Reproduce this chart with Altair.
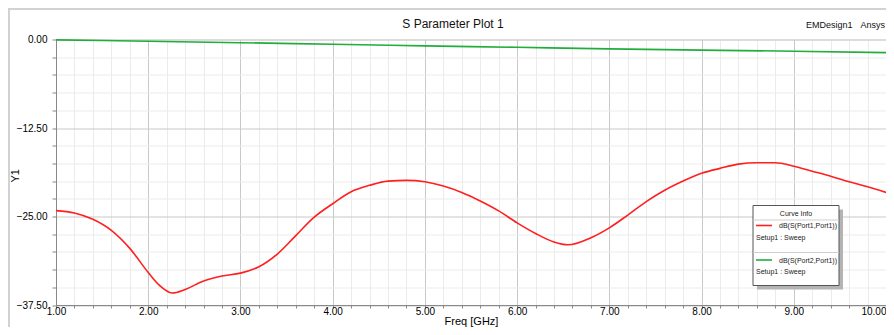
import altair as alt
import pandas as pd

TITLE = "S Parameter Plot 1"
DESIGN = "EMDesign1"
VENDOR = "Ansys"
X_TITLE = "Freq [GHz]"
Y_TITLE = "Y1"
LEGEND_TITLE = "Curve Info"
SWEEP = "Setup1 : Sweep"
SERIES = ["dB(S(Port1,Port1))", "dB(S(Port2,Port1))"]
COLORS = ["#ff1f1f", "#20ad3c"]

FREQ_S11 = [1.0, 1.2, 1.4, 1.6, 1.8, 2.0, 2.12, 2.26, 2.4, 2.6, 2.8, 3.0, 3.2, 3.4,
            3.6, 3.8, 4.0, 4.2, 4.4, 4.6, 4.8, 5.0, 5.2, 5.4, 5.6, 5.8, 6.0, 6.2,
            6.4, 6.55, 6.8, 7.0, 7.2, 7.4, 7.6, 7.8, 8.0, 8.2, 8.4, 8.6, 8.8, 9.0,
            9.2, 9.4, 9.6, 9.8, 10.0]
DB_S11 = [-24.17, -24.5, -25.4, -26.96, -29.5, -32.9, -34.7, -35.8, -35.3, -34.1,
          -33.4, -33.0, -32.1, -30.3, -27.7, -25.1, -23.2, -21.5, -20.6, -20.0,
          -19.9, -20.1, -20.7, -21.6, -22.8, -24.2, -25.9, -27.4, -28.6, -29.0,
          -28.0, -26.6, -24.8, -22.9, -21.3, -20.0, -18.9, -18.2, -17.6, -17.4,
          -17.4, -17.9, -18.6, -19.3, -20.1, -20.8, -21.6]

FREQ_S21 = [1.0, 2.0, 3.0, 4.0, 5.0, 6.0, 7.0, 8.0, 9.0, 10.0]
DB_S21 = [-0.05, -0.25, -0.45, -0.68, -0.9, -1.1, -1.32, -1.5, -1.65, -1.85]

X_TICKS = [round(1.0 + 0.2 * i, 1) for i in range(46)]
Y_TICKS = [round(-2.5 * i, 1) for i in range(16)]

W, H = 830, 265.5
FONT = "Liberation Sans"

df = pd.DataFrame({
    "freq": FREQ_S11 + FREQ_S21,
    "db": DB_S11 + DB_S21,
    "series": [SERIES[0]] * len(FREQ_S11) + [SERIES[1]] * len(FREQ_S21),
})

grid_x = {"condition": {"test": "abs(datum.value - round(datum.value)) < 0.001", "value": "#c9c9c9"}, "value": "#ebebeb"}
grid_y = {"condition": {"test": "abs(datum.value % 12.5) < 0.001", "value": "#c9c9c9"}, "value": "#ebebeb"}
x_label_align = {"condition": {"test": "datum.value > 9.9", "value": "right"}, "value": "center"}

lines = alt.Chart(df).mark_line(strokeWidth=1.6, interpolate="monotone").encode(
    x=alt.X("freq:Q", scale=alt.Scale(domain=[1, 10], nice=False, zero=False),
            axis=alt.Axis(values=X_TICKS, title=X_TITLE, titleFontWeight="normal",
                          labelExpr="abs(datum.value - round(datum.value)) < 0.001 ? format(datum.value, '.2f') : ''",
                          labelAlign=x_label_align,
                          gridColor=grid_x, tickSize=3, labelPadding=-2, labelFlush=False,
                          labelOverlap=False, titleY=19.5, titleBaseline="alphabetic")),
    y=alt.Y("db:Q", scale=alt.Scale(domain=[-37.5, 0], nice=False, zero=False),
            axis=alt.Axis(values=Y_TICKS, title=Y_TITLE, titleFontWeight="normal",
                          labelExpr="abs(datum.value % 12.5) < 0.001 ? format(datum.value, '.2f') : ''",
                          gridColor=grid_y, tickSize=4, labelPadding=5, labelFlush=False,
                          labelOverlap=False, titleX=-36, titleY=H / 2 + 3)),
    color=alt.Color("series:N", scale=alt.Scale(domain=SERIES, range=COLORS), legend=None),
)

one = pd.DataFrame({"t": [""]})

def txt(s, x, y, size=7, align="left", baseline="middle", color="#222"):
    return alt.Chart(pd.DataFrame({"t": [s]})).mark_text(
        font=FONT, fontSize=size, align=align, baseline=baseline, color=color
    ).encode(text="t:N", x=alt.value(x), y=alt.value(y))

def rect(x, x2, y, y2, fill, stroke=None):
    kw = {"fill": fill}
    if stroke:
        kw["stroke"] = stroke
        kw["strokeWidth"] = 1
    return alt.Chart(one).mark_rect(**kw).encode(
        x=alt.value(x), x2=alt.value(x2), y=alt.value(y), y2=alt.value(y2))

def hline(x, x2, y, color, width=1.0):
    return alt.Chart(one).mark_rule(color=color, strokeWidth=width).encode(
        x=alt.value(x), x2=alt.value(x2), y=alt.value(y))

def vline(x, y, y2, color, width=1.0):
    return alt.Chart(one).mark_rule(color=color, strokeWidth=width).encode(
        x=alt.value(x), y=alt.value(y), y2=alt.value(y2))

# legend box (Curve Info)
LX, LX2, LY, LY2 = 697, 783, 166, 246
legend = [
    rect(LX + 4, LX2 + 4, LY + 4, LY2 + 4, "#b4b4b4"),
    rect(LX, LX2, LY, LY2, "#ffffff", "#555555"),
    txt(LEGEND_TITLE, (LX + LX2) / 2, 174.5, align="center"),
    hline(LX, LX2, 180.5, "#cfcfcf"),
    hline(LX + 3, LX + 19, 186, COLORS[0], 1.6),
    txt(SERIES[0], LX2 - 2, 186.5, align="right"),
    txt(SWEEP, LX + 3, 198),
    hline(LX, LX2, 213, "#cfcfcf"),
    hline(LX + 3, LX + 19, 220.5, COLORS[1], 1.6),
    txt(SERIES[1], LX2 - 2, 221, align="right"),
    txt(SWEEP, LX + 3, 232),
]

headers = [
    txt(TITLE, 397, -11.5, size=12, align="center", baseline="alphabetic", color="#111"),
    txt(DESIGN, 750, -11.5, size=9, baseline="alphabetic", color="#111"),
    txt(VENDOR, W - 1, -12, size=9, align="right", baseline="alphabetic", color="#111"),
]

frame = [
    vline(-47, -31.5, H + 40, "#d2d2d2", 2),
    hline(-48, W + 20, -30.5, "#d2d2d2", 2),
]

chart = alt.layer(*frame, lines, *legend, *headers).properties(
    width=W, height=H,
    padding={"left": 48, "top": 31.5, "right": 0, "bottom": 22},
    autosize=alt.AutoSizeParams(type="none"),
).configure_view(
    stroke="#555555", strokeWidth=1
).configure_axis(
    labelFont=FONT, labelFontSize=8, labelColor="#333333",
    titleFont=FONT, titleFontSize=8, titleFontWeight="normal", titleColor="#222222",
    domainColor="#444444", tickColor="#444444", gridWidth=1,
).configure(background="#ffffff")

chart.save("out.html", embed_options={"renderer": "svg", "actions": False})
